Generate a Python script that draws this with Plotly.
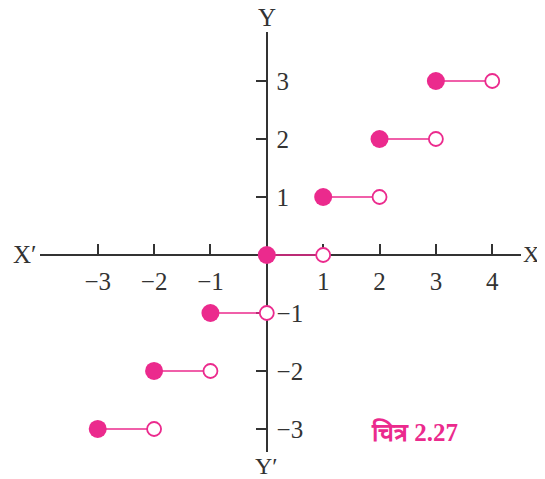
import plotly.graph_objects as go

# ---- data ----
step_start = [-3, -2, -1, 0, 1, 2, 3]
step_end = [-2, -1, 0, 1, 2, 3, 4]
step_value = [-3, -2, -1, 0, 1, 2, 3]
x_tick_vals = [-3, -2, -1, 1, 2, 3, 4]
y_tick_vals = [-3, -2, -1, 1, 2, 3]
caption = "चित्र 2.27"

PINK = "#EB2A8D"
AXC = "#333333"
SERIF = "Liberation Serif, Times New Roman, serif"

x_range = [-4.024, 4.510]
y_range = [-3.397, 3.845]

seg_x, seg_y = [], []
for s, e, v in zip(step_start, step_end, step_value):
    seg_x += [s, e, None]
    seg_y += [v, v, None]

fig = go.Figure()
fig.add_trace(go.Scatter(x=seg_x, y=seg_y, mode="lines",
                         line=dict(color=PINK, width=1.6), hoverinfo="skip"))
fig.add_trace(go.Scatter(x=step_end, y=step_value, mode="markers",
                         marker=dict(size=14, color="white",
                                     line=dict(color=PINK, width=1.8))))
fig.add_trace(go.Scatter(x=step_start, y=step_value, mode="markers",
                         marker=dict(size=18, color=PINK, line=dict(width=0))))

xpos = (0 - y_range[0]) / (y_range[1] - y_range[0])
ypos = (0 - x_range[0]) / (x_range[1] - x_range[0])

# page body adds an 8px offset, so margins are shifted by 8px
fig.update_layout(
    width=545, height=479,
    margin=dict(l=32, r=32, t=24, b=35),
    paper_bgcolor="white", plot_bgcolor="white",
    showlegend=False,
    xaxis=dict(range=x_range, anchor="free", position=xpos, side="bottom",
               showgrid=False, zeroline=False, showline=True,
               linecolor=AXC, linewidth=1.5, layer="below traces",
               ticks="inside", ticklen=10, tickwidth=1.5, tickcolor=AXC,
               tickvals=x_tick_vals, ticklabelstandoff=4,
               tickfont=dict(family=SERIF, size=25, color=AXC)),
    yaxis=dict(range=y_range, anchor="free", position=ypos, side="right",
               showgrid=False, zeroline=False, showline=True,
               linecolor=AXC, linewidth=1.5, layer="below traces",
               ticks="inside", ticklen=10, tickwidth=1.5, tickcolor=AXC,
               tickvals=y_tick_vals, ticklabelstandoff=4,
               tickfont=dict(family=SERIF, size=25, color=AXC)),
)

lab_font = dict(family=SERIF, size=25, color=AXC)
fig.add_annotation(x=x_range[0], y=0, xref="x", yref="y", text="X′",
                   showarrow=False, xanchor="right", yanchor="middle",
                   xshift=-1, font=lab_font)
fig.add_annotation(x=x_range[1], y=0, xref="x", yref="y", text="X",
                   showarrow=False, xanchor="left", yanchor="middle",
                   xshift=0, font=dict(family=SERIF, size=23, color=AXC))
fig.add_annotation(x=0, y=y_range[1], xref="x", yref="y", text="Y",
                   showarrow=False, xanchor="center", yanchor="bottom",
                   yshift=-1, font=lab_font)
fig.add_annotation(x=0, y=y_range[0], xref="x", yref="y", text="Y′",
                   showarrow=False, xanchor="center", yanchor="top",
                   yshift=1, font=dict(family=SERIF, size=24, color=AXC))
fig.add_annotation(x=(414 - 40) / 481, y=(452 - 432) / 420, xref="paper", yref="paper",
                   text="<b>" + caption + "</b>", showarrow=False,
                   xanchor="center", yanchor="middle",
                   font=dict(family=SERIF, size=25, color=PINK))

fig.write_html("out.html")
